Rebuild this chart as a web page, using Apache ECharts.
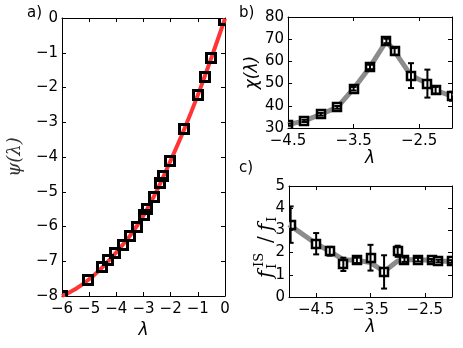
<!DOCTYPE html>
<html>
<head>
<meta charset="utf-8">
<script src="https://cdn.jsdelivr.net/npm/echarts@6/dist/echarts.min.js"></script>
<style>html,body{margin:0;padding:0;background:#fff;}#chart{width:463px;height:348px;}</style>
</head>
<body>
<div id="chart"></div>
<script>
// Panel a: psi(lambda)
var aLam = [-6.0, -5.05, -4.51, -4.29, -4.04, -3.74, -3.49, -3.25, -2.98, -2.88, -2.63, -2.39, -2.27, -2.02, -1.50, -0.99, -0.74, -0.52, -0.05];
var aPsi = [-8.0, -7.54, -7.17, -6.96, -6.77, -6.53, -6.27, -6.01, -5.67, -5.51, -5.14, -4.74, -4.54, -4.11, -3.20, -2.22, -1.70, -1.14, -0.05];
var aCurveLam = [-6.0, -5.5, -5.0, -4.5, -4.0, -3.5, -3.0, -2.5, -2.0, -1.5, -1.0, -0.5, 0.0];
var aCurvePsi = [-8.0, -7.8, -7.52, -7.16, -6.74, -6.27, -5.68, -4.95, -4.10, -3.20, -2.22, -1.14, -0.02];
// Panel b: chi(lambda)
var bLam = [-4.5, -4.25, -4.0, -3.75, -3.5, -3.25, -3.0, -2.875, -2.625, -2.375, -2.25, -2.0];
var bChi = [31.5, 33.2, 36.2, 39.3, 47.7, 57.5, 69.2, 64.5, 53.6, 50.0, 47.0, 44.3];
var bErr = [0.5, 0.5, 0.6, 0.6, 0.8, 1.0, 1.0, 1.5, 5.6, 6.3, 1.5, 2.0];
// Panel c: f_I^IS / f_I
var cLam = [-4.97, -4.5, -4.25, -4.0, -3.75, -3.5, -3.25, -3.0, -2.875, -2.625, -2.375, -2.25, -2.0];
var cVal = [3.26, 2.40, 2.06, 1.47, 1.65, 1.77, 1.13, 2.06, 1.68, 1.68, 1.65, 1.62, 1.60];
var cErr = [0.82, 0.48, 0.20, 0.30, 0.12, 0.58, 0.75, 0.25, 0.10, 0.08, 0.06, 0.06, 0.06];
var cLineLam = [-5.0, -4.5, -4.25, -4.0, -3.75, -3.5, -3.25, -3.0, -2.875, -2.625, -2.375, -2.25, -2.0];
var cLineVal = [3.26, 2.40, 2.06, 1.68, 1.65, 1.55, 1.15, 1.62, 1.68, 1.68, 1.65, 1.62, 1.60];
// tick labels
var aXTicks = [-6, -5, -4, -3, -2, -1, 0];
var bcXTicks = [-4.5, -3.5, -2.5];

function zip(a, b) { return a.map(function (v, i) { return [v, b[i]]; }); }
function fmt(v) { return String(v).replace('-', '\u2212'); }

var FONT = 'DejaVu Sans';
var lineStyle = { color: '#000', width: 1 };

function xAx(grid, min, max, interval, ticks, pos, showLabel, name) {
  var ax = {
    type: 'value', gridIndex: grid, min: min, max: max, interval: interval, position: pos,
    axisLine: { show: true, onZero: false, lineStyle: lineStyle },
    axisTick: { show: true, inside: true, length: 4, lineStyle: lineStyle },
    axisLabel: { show: showLabel, formatter: fmt, fontFamily: FONT, fontSize: 15, color: '#000', margin: 6, showMinLabel: true, showMaxLabel: true },
    splitLine: { show: false }
  };
  if (ticks) { ax.axisTick.customValues = ticks; ax.axisLabel.customValues = ticks; }
  if (name) {
    ax.name = name; ax.nameLocation = 'middle'; ax.nameGap = 21;
    ax.nameTextStyle = { fontFamily: FONT, fontStyle: 'italic', fontSize: 17, color: '#000' };
  }
  return ax;
}
function yAx(grid, min, max, interval, pos, showLabel, name, gap, nameFont) {
  var ax = {
    type: 'value', gridIndex: grid, min: min, max: max, interval: interval, position: pos,
    axisLine: { show: true, onZero: false, lineStyle: lineStyle },
    axisTick: { show: true, inside: true, length: 4, lineStyle: lineStyle },
    axisLabel: { show: showLabel, formatter: fmt, fontFamily: FONT, fontSize: 15, color: '#000', margin: 4, showMinLabel: true, showMaxLabel: true },
    splitLine: { show: false }
  };
  if (name) {
    ax.name = name; ax.nameLocation = 'middle'; ax.nameGap = gap; ax.nameRotate = 90;
    ax.nameTextStyle = nameFont;
  }
  return ax;
}

function markerSeries(idx, lam, val, inner, lw, fill) {
  return {
    type: 'custom', xAxisIndex: idx, yAxisIndex: idx, z: 3, clip: true,
    data: zip(lam, val),
    renderItem: function (params, api) {
      var p = api.coord([api.value(0), api.value(1)]);
      var cx = Math.round(p[0]), cy = Math.round(p[1]);
      return {
        type: 'rect',
        shape: { x: cx - inner / 2, y: cy - inner / 2, width: inner, height: inner },
        style: { fill: fill, stroke: '#000', lineWidth: lw }
      };
    }
  };
}

function errSeries(idx, lam, val, err) {
  return {
    type: 'custom', xAxisIndex: idx, yAxisIndex: idx, z: 4, clip: true,
    data: lam.map(function (x, i) { return [x, val[i] - err[i], val[i] + err[i]]; }),
    renderItem: function (params, api) {
      var x = api.value(0);
      var lo = api.coord([x, api.value(1)]);
      var hi = api.coord([x, api.value(2)]);
      var w = 3;
      var st = { stroke: '#000', lineWidth: 2 };
      return {
        type: 'group', children: [
          { type: 'line', shape: { x1: lo[0], y1: lo[1], x2: hi[0], y2: hi[1] }, style: st },
          { type: 'line', shape: { x1: lo[0] - w, y1: lo[1], x2: lo[0] + w, y2: lo[1] }, style: st },
          { type: 'line', shape: { x1: hi[0] - w, y1: hi[1], x2: hi[0] + w, y2: hi[1] }, style: st }
        ]
      };
    }
  };
}

var serifIt = { fontFamily: 'DejaVu Serif', fontStyle: 'italic', fontSize: 18, color: '#333' };
var sansIt = { fontFamily: FONT, fontStyle: 'italic', fontSize: 17, color: '#000' };

var option = {
  animation: false,
  backgroundColor: '#fff',
  grid: [
    { left: 62, top: 18, width: 163, height: 278 },
    { left: 288, top: 17, width: 164, height: 111 },
    { left: 289, top: 186, width: 163, height: 111 }
  ],
  xAxis: [
    xAx(0, -6, 0, 1, null, 'bottom', true, '\u03bb'),
    xAx(1, -4.5, -2.0, 0.5, bcXTicks, 'bottom', true, '\u03bb'),
    xAx(2, -5, -2, 0.5, bcXTicks, 'bottom', true, '\u03bb'),
    xAx(0, -6, 0, 1, null, 'top', false),
    xAx(1, -4.5, -2.0, 0.5, bcXTicks, 'top', false),
    xAx(2, -5, -2, 0.5, bcXTicks, 'top', false)
  ],
  yAxis: [
    yAx(0, -8, 0, 1, 'left', true, '\u03c8(\u03bb)', 38, serifIt),
    yAx(1, 30, 80, 10, 'left', true, '\u03c7(\u03bb)', 26, sansIt),
    yAx(2, 0, 5, 1, 'left', true),
    yAx(0, -8, 0, 1, 'right', false),
    yAx(1, 30, 80, 10, 'right', false),
    yAx(2, 0, 5, 1, 'right', false)
  ],
  series: [
    { type: 'line', xAxisIndex: 0, yAxisIndex: 0, data: zip(aCurveLam, aCurvePsi), smooth: 0.3, symbol: 'none', lineStyle: { color: '#ff3535', width: 4 }, z: 1, clip: true },
    markerSeries(0, aLam, aPsi, 9, 3, 'rgba(0,0,0,0)'),

    { type: 'line', xAxisIndex: 1, yAxisIndex: 1, data: zip(bLam, bChi), symbol: 'none', lineStyle: { color: '#8c8c8c', width: 5 }, z: 1, clip: true },
    markerSeries(1, bLam, bChi, 8, 2.5, '#fff'),
    errSeries(1, bLam, bChi, bErr),

    { type: 'line', xAxisIndex: 2, yAxisIndex: 2, data: zip(cLineLam, cLineVal), symbol: 'none', lineStyle: { color: '#8c8c8c', width: 5 }, z: 1, clip: true },
    markerSeries(2, cLam, cVal, 8, 2.5, '#fff'),
    errSeries(2, cLam, cVal, cErr)
  ],
  graphic: [
    { type: 'text', left: 27, top: 6, style: { text: 'a)', fontFamily: FONT, fontSize: 15, fill: '#000' } },
    { type: 'text', left: 239, top: 6, style: { text: 'b)', fontFamily: FONT, fontSize: 15, fill: '#000' } },
    { type: 'text', left: 239, top: 161, style: { text: 'c)', fontFamily: FONT, fontSize: 15, fill: '#000' } },
    {
      type: 'group', x: 267, y: 245, rotation: Math.PI / 2,
      children: [
        { type: 'text', x: -33, y: 0, style: { text: 'f', fontFamily: 'DejaVu Serif', fontStyle: 'italic', fontSize: 20, fill: '#000', verticalAlign: 'middle' } },
        { type: 'text', x: -22, y: -7, style: { text: 'IS', fontFamily: 'DejaVu Serif', fontSize: 13, fill: '#000', verticalAlign: 'middle' } },
        { type: 'text', x: -24, y: 6, style: { text: 'I', fontFamily: 'DejaVu Serif', fontSize: 13, fill: '#000', verticalAlign: 'middle' } },
        { type: 'text', x: 2, y: 0, style: { text: '/', fontFamily: 'DejaVu Serif', fontSize: 20, fill: '#000', verticalAlign: 'middle' } },
        { type: 'text', x: 14, y: 0, style: { text: 'f', fontFamily: 'DejaVu Serif', fontStyle: 'italic', fontSize: 20, fill: '#000', verticalAlign: 'middle' } },
        { type: 'text', x: 23, y: 6, style: { text: 'I', fontFamily: 'DejaVu Serif', fontSize: 13, fill: '#000', verticalAlign: 'middle' } }
      ]
    }
  ]
};

var chart = echarts.init(document.getElementById('chart'), null, { renderer: 'canvas' });
chart.setOption(option);
</script>
</body>
</html>
